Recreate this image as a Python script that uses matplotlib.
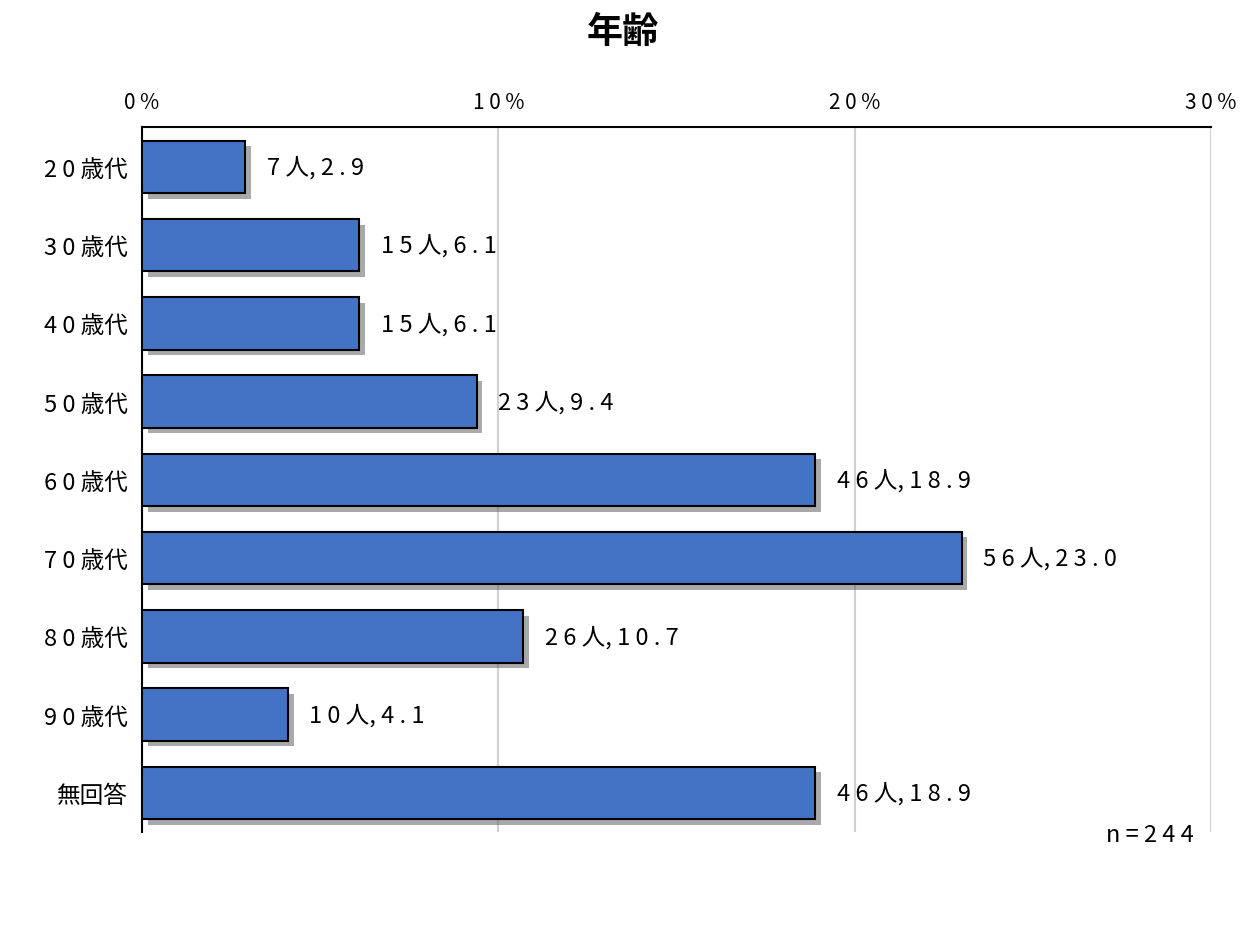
import matplotlib
matplotlib.use("Agg")
import matplotlib.pyplot as plt
import matplotlib.patheffects as pe

categories = ["2 0 歳代", "3 0 歳代", "4 0 歳代", "5 0 歳代", "6 0 歳代",
              "7 0 歳代", "8 0 歳代", "9 0 歳代", "無回答"]
counts = [7, 15, 15, 23, 46, 56, 26, 10, 46]
percents = [2.9, 6.1, 6.1, 9.4, 18.9, 23.0, 10.7, 4.1, 18.9]
xticks = [0, 10, 20, 30]
xticklabels = ["0 %", "1 0 %", "2 0 %", "3 0 %"]

plt.rcParams["font.family"] = "Noto Sans CJK JP"

fig = plt.figure(figsize=(12.54, 9.28), dpi=100)
ax = fig.add_axes([0.1132, 0.1024, 0.8525, 0.7596])

y = list(range(len(categories)))
bars = ax.barh(y, percents, height=0.67, color="#4472C4", edgecolor="black",
               linewidth=1.5, zorder=3)
for b in bars:
    b.set_path_effects([pe.SimplePatchShadow(offset=(4, -4), shadow_rgbFace="#555555", alpha=0.5),
                        pe.Normal()])

for yi, c, p in zip(y, counts, percents):
    label = " ".join(str(c)) + " 人, " + " ".join(f"{p:.1f}")
    ax.text(p + 0.6, yi, label, va="center", ha="left", fontsize=17, zorder=4)

ax.set_xlim(0, 30)
ax.set_ylim(8.5, -0.51)
ax.set_yticks(y)
ax.set_yticklabels(categories, fontsize=17)
ax.set_xticks(xticks)
ax.set_xticklabels(xticklabels, fontsize=15)
ax.xaxis.tick_top()
ax.tick_params(axis="both", length=0, pad=10)
ax.grid(axis="x", color="#d0d0d0", linewidth=1.5, zorder=0)
for s in ["right", "bottom"]:
    ax.spines[s].set_visible(False)
ax.spines["top"].set_linewidth(1.5)
ax.spines["left"].set_linewidth(1.5)

fig.text(0.497, 0.965, "年齢", ha="center", va="center", fontsize=26, fontweight="bold")
fig.text(0.952, 0.1, "n = 2 4 4", ha="right", va="center", fontsize=17)

fig.savefig("out.png", dpi=100)
